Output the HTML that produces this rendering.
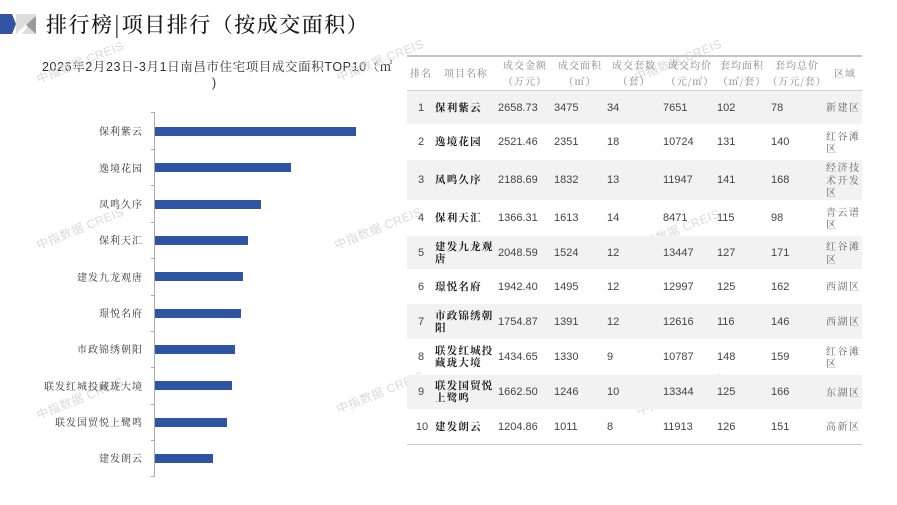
<!DOCTYPE html>
<html><head><meta charset="utf-8">
<style>
*{margin:0;padding:0;box-sizing:border-box}
body{width:897px;height:505px;background:#fff;position:relative;overflow:hidden;font-family:"Liberation Sans","Noto Sans CJK SC",sans-serif}
.abs{position:absolute}
.title{left:46px;top:9px;font-family:"Noto Serif CJK SC",serif;font-size:21px;letter-spacing:1.5px;color:#1a1a1a;white-space:nowrap;line-height:30px;font-weight:500}
.ctitle{left:42px;top:58px;font-family:"Liberation Sans","Noto Serif CJK SC",serif;font-size:12.5px;letter-spacing:0.6px;color:#333;white-space:nowrap;line-height:18px}
.lbl{position:absolute;right:754px;font-family:"Noto Serif CJK SC",serif;font-size:10px;letter-spacing:1px;color:#333;white-space:nowrap;line-height:14px;transform:translateY(-7px)}
.bar{position:absolute;left:155px;height:9px;background:#2f54a3}
.tick{position:absolute;left:151px;width:4px;height:1px;background:#aaa}
.wm{position:absolute;font-size:12px;color:#dadada;white-space:nowrap;transform:translate(-50%,-50%) rotate(-22deg);font-family:"Liberation Sans","Noto Sans CJK SC",sans-serif;letter-spacing:0.5px}
.row{position:absolute;left:407px;width:455px}
.sh{background:#f2f2f2}
.cell{position:absolute;top:0;height:100%;display:flex;align-items:center;font-size:11px;color:#444;line-height:12px;white-space:nowrap}
.nm{font-family:"Noto Serif CJK SC",serif;font-weight:700;color:#222;letter-spacing:1.2px;font-size:10.5px}
.ds{font-family:"Noto Serif CJK SC",serif;color:#666;letter-spacing:1.5px;font-size:10px;line-height:12.5px}
.hd{position:absolute;text-align:center;font-family:"Noto Serif CJK SC",serif;font-size:10px;letter-spacing:1px;color:#888;line-height:16px;white-space:nowrap;transform:translateX(-50%)}
</style></head><body>

<!-- logo -->
<svg class="abs" style="left:0;top:13px" width="38" height="22" viewBox="0 0 38 22">
<polygon points="0,1 12,1 16,11 12,21 0,21" fill="#2f54a3"/>
<polygon points="16,1 36,1 36,21 16,21" fill="#dcdcdc"/>
<polygon points="16,1 26,11 16,21 22,21 28,13" fill="#ffffff" opacity="0.85"/>
<polygon points="36,3 36,21 26,12" fill="#9a9a9a"/>
</svg>
<div class="abs title">排行榜|项目排行（按成交面积）</div>

<div class="abs ctitle">2026年2月23日-3月1日南昌市住宅项目成交面积TOP10（㎡</div>
<div class="abs ctitle" style="left:212px;top:74px">)</div>

<!-- watermarks -->
<div class="wm" style="left:80px;top:62px">中指数据 CREIS</div>
<div class="wm" style="left:380px;top:60px">中指数据 CREIS</div>
<div class="wm" style="left:678px;top:60px">中指数据 CREIS</div>
<div class="wm" style="left:80px;top:228px">中指数据 CREIS</div>
<div class="wm" style="left:378px;top:228px">中指数据 CREIS</div>
<div class="wm" style="left:676px;top:230px">中指数据 CREIS</div>
<div class="wm" style="left:80px;top:398px">中指数据 CREIS</div>
<div class="wm" style="left:380px;top:392px">中指数据 CREIS</div>
<div class="wm" style="left:680px;top:394px">中指数据 CREIS</div>

<!-- bar chart -->
<div class="abs" style="left:154px;top:112px;width:1px;height:365px;background:#aaa"></div>
<div class="tick" style="top:112px"></div>
<div class="tick" style="top:149px"></div>
<div class="tick" style="top:185px"></div>
<div class="tick" style="top:222px"></div>
<div class="tick" style="top:258px"></div>
<div class="tick" style="top:295px"></div>
<div class="tick" style="top:331px"></div>
<div class="tick" style="top:367px"></div>
<div class="tick" style="top:404px"></div>
<div class="tick" style="top:440px"></div>
<div class="tick" style="top:476px"></div>

<div class="bar" style="top:126.5px;width:201px"></div>
<div class="bar" style="top:163px;width:136px"></div>
<div class="bar" style="top:199.5px;width:106px"></div>
<div class="bar" style="top:235.5px;width:93px"></div>
<div class="bar" style="top:272px;width:88px"></div>
<div class="bar" style="top:308.5px;width:86px"></div>
<div class="bar" style="top:344.5px;width:80px"></div>
<div class="bar" style="top:381px;width:77px"></div>
<div class="bar" style="top:417.5px;width:72px"></div>
<div class="bar" style="top:453.5px;width:58px"></div>

<div class="lbl" style="top:131px">保利紫云</div>
<div class="lbl" style="top:167.5px">逸境花园</div>
<div class="lbl" style="top:204px">凤鸣久序</div>
<div class="lbl" style="top:240px">保利天汇</div>
<div class="lbl" style="top:276.5px">建发九龙观唐</div>
<div class="lbl" style="top:313px">璟悦名府</div>
<div class="lbl" style="top:349px">市政锦绣朝阳</div>
<div class="lbl" style="top:385.5px">联发红城投藏珑大境</div>
<div class="lbl" style="top:422px">联发国贸悦上鹭鸣</div>
<div class="lbl" style="top:458px">建发朗云</div>

<!-- table -->
<div class="abs" style="left:407px;top:55px;width:455px;height:2px;background:#c4c4c4"></div>
<div class="hd" style="left:421px;top:65px">排名</div>
<div class="hd" style="left:466px;top:65px">项目名称</div>
<div class="hd" style="left:525px;top:57px">成交金额<br>（万元）</div>
<div class="hd" style="left:580px;top:57px">成交面积<br>（㎡）</div>
<div class="hd" style="left:634px;top:57px">成交套数<br>（套）</div>
<div class="hd" style="left:690px;top:57px">成交均价<br>（元/㎡）</div>
<div class="hd" style="left:742px;top:57px">套均面积<br>（㎡/套）</div>
<div class="hd" style="left:797px;top:57px">套均总价<br>（万元/套）</div>
<div class="hd" style="left:845px;top:65px">区域</div>
<div class="abs" style="left:407px;top:90px;width:455px;height:1px;background:#d0d0d0"></div>

<div class="row sh" style="top:91px;height:33px">
<div class="cell" style="left:4px;width:20px;justify-content:center">1</div>
<div class="cell nm" style="left:28px">保利紫云</div>
<div class="cell" style="left:91px">2658.73</div>
<div class="cell" style="left:147px">3475</div>
<div class="cell" style="left:200px">34</div>
<div class="cell" style="left:256px">7651</div>
<div class="cell" style="left:310px">102</div>
<div class="cell" style="left:364px">78</div>
<div class="cell ds" style="left:419px">新建区</div>
</div>
<div class="row" style="top:124px;height:36px">
<div class="cell" style="left:4px;width:20px;justify-content:center">2</div>
<div class="cell nm" style="left:28px">逸境花园</div>
<div class="cell" style="left:91px">2521.46</div>
<div class="cell" style="left:147px">2351</div>
<div class="cell" style="left:200px">18</div>
<div class="cell" style="left:256px">10724</div>
<div class="cell" style="left:310px">131</div>
<div class="cell" style="left:364px">140</div>
<div class="cell ds" style="left:419px">红谷滩<br>区</div>
</div>
<div class="row sh" style="top:160px;height:40px">
<div class="cell" style="left:4px;width:20px;justify-content:center">3</div>
<div class="cell nm" style="left:28px">凤鸣久序</div>
<div class="cell" style="left:91px">2188.69</div>
<div class="cell" style="left:147px">1832</div>
<div class="cell" style="left:200px">13</div>
<div class="cell" style="left:256px">11947</div>
<div class="cell" style="left:310px">141</div>
<div class="cell" style="left:364px">168</div>
<div class="cell ds" style="left:419px">经济技<br>术开发<br>区</div>
</div>
<div class="row" style="top:200px;height:36px">
<div class="cell" style="left:4px;width:20px;justify-content:center">4</div>
<div class="cell nm" style="left:28px">保利天汇</div>
<div class="cell" style="left:91px">1366.31</div>
<div class="cell" style="left:147px">1613</div>
<div class="cell" style="left:200px">14</div>
<div class="cell" style="left:256px">8471</div>
<div class="cell" style="left:310px">115</div>
<div class="cell" style="left:364px">98</div>
<div class="cell ds" style="left:419px">青云谱<br>区</div>
</div>
<div class="row sh" style="top:236px;height:33px">
<div class="cell" style="left:4px;width:20px;justify-content:center">5</div>
<div class="cell nm" style="left:28px">建发九龙观<br>唐</div>
<div class="cell" style="left:91px">2048.59</div>
<div class="cell" style="left:147px">1524</div>
<div class="cell" style="left:200px">12</div>
<div class="cell" style="left:256px">13447</div>
<div class="cell" style="left:310px">127</div>
<div class="cell" style="left:364px">171</div>
<div class="cell ds" style="left:419px">红谷滩<br>区</div>
</div>
<div class="row" style="top:269px;height:35px">
<div class="cell" style="left:4px;width:20px;justify-content:center">6</div>
<div class="cell nm" style="left:28px">璟悦名府</div>
<div class="cell" style="left:91px">1942.40</div>
<div class="cell" style="left:147px">1495</div>
<div class="cell" style="left:200px">12</div>
<div class="cell" style="left:256px">12997</div>
<div class="cell" style="left:310px">125</div>
<div class="cell" style="left:364px">162</div>
<div class="cell ds" style="left:419px">西湖区</div>
</div>
<div class="row sh" style="top:304px;height:35px">
<div class="cell" style="left:4px;width:20px;justify-content:center">7</div>
<div class="cell nm" style="left:28px">市政锦绣朝<br>阳</div>
<div class="cell" style="left:91px">1754.87</div>
<div class="cell" style="left:147px">1391</div>
<div class="cell" style="left:200px">12</div>
<div class="cell" style="left:256px">12616</div>
<div class="cell" style="left:310px">116</div>
<div class="cell" style="left:364px">146</div>
<div class="cell ds" style="left:419px">西湖区</div>
</div>
<div class="row" style="top:339px;height:36px">
<div class="cell" style="left:4px;width:20px;justify-content:center">8</div>
<div class="cell nm" style="left:28px">联发红城投<br>藏珑大境</div>
<div class="cell" style="left:91px">1434.65</div>
<div class="cell" style="left:147px">1330</div>
<div class="cell" style="left:200px">9</div>
<div class="cell" style="left:256px">10787</div>
<div class="cell" style="left:310px">148</div>
<div class="cell" style="left:364px">159</div>
<div class="cell ds" style="left:419px">红谷滩<br>区</div>
</div>
<div class="row sh" style="top:375px;height:34px">
<div class="cell" style="left:4px;width:20px;justify-content:center">9</div>
<div class="cell nm" style="left:28px">联发国贸悦<br>上鹭鸣</div>
<div class="cell" style="left:91px">1662.50</div>
<div class="cell" style="left:147px">1246</div>
<div class="cell" style="left:200px">10</div>
<div class="cell" style="left:256px">13344</div>
<div class="cell" style="left:310px">125</div>
<div class="cell" style="left:364px">166</div>
<div class="cell ds" style="left:419px">东湖区</div>
</div>
<div class="row" style="top:409px;height:35px">
<div class="cell" style="left:4px;width:22px;justify-content:center">10</div>
<div class="cell nm" style="left:28px">建发朗云</div>
<div class="cell" style="left:91px">1204.86</div>
<div class="cell" style="left:147px">1011</div>
<div class="cell" style="left:200px">8</div>
<div class="cell" style="left:256px">11913</div>
<div class="cell" style="left:310px">126</div>
<div class="cell" style="left:364px">151</div>
<div class="cell ds" style="left:419px">高新区</div>
</div>
<div class="abs" style="left:407px;top:444px;width:455px;height:1px;background:#c8c8c8"></div>

</body></html>
